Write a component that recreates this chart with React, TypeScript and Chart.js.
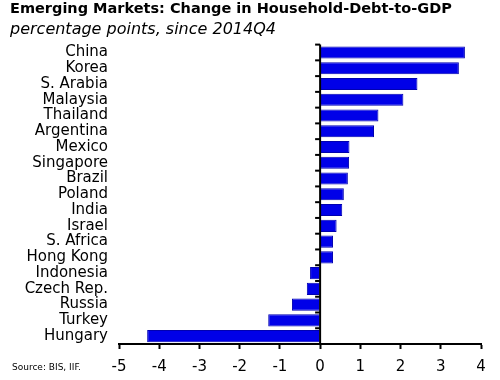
import React, { useEffect, useRef } from "react";
import { Chart, registerables } from "chart.js";

Chart.register(...registerables);

const titleText = "Emerging Markets: Change in Household-Debt-to-GDP";
const subtitleText = "percentage points, since 2014Q4";
const sourceText = "Source: BIS, IIF.";

const countries = [
  "China", "Korea", "S. Arabia", "Malaysia", "Thailand", "Argentina", "Mexico",
  "Singapore", "Brazil", "Poland", "India", "Israel", "S. Africa", "Hong Kong",
  "Indonesia", "Czech Rep.", "Russia", "Turkey", "Hungary",
];
const changes = [
  3.6, 3.45, 2.42, 2.07, 1.45, 1.34, 0.73, 0.72, 0.69, 0.59, 0.55, 0.41, 0.32,
  0.32, -0.25, -0.33, -0.7, -1.29, -4.3,
];
const xMin = -5;
const xMax = 4;

const FONT = "'DejaVu Sans', sans-serif";

const zeroLinePlugin = {
  id: "zeroLine",
  afterDatasetsDraw(chart: any) {
    const { ctx, chartArea, scales } = chart;
    const xs = scales.x;
    const x0 = xs.getPixelForValue(0);
    ctx.save();
    ctx.strokeStyle = "#000";
    ctx.lineWidth = 2;
    ctx.beginPath();
    ctx.moveTo(x0, chartArea.top);
    ctx.lineTo(x0, chartArea.bottom);
    ctx.stroke();
    const n = countries.length;
    const h = (chartArea.bottom - chartArea.top) / n;
    for (let i = 0; i < n; i++) {
      const y = chartArea.top + i * h;
      ctx.beginPath();
      ctx.moveTo(x0 - 5, y);
      ctx.lineTo(x0, y);
      ctx.stroke();
    }
    ctx.restore();
  },
};

export default function App() {
  const ref = useRef<HTMLCanvasElement | null>(null);
  useEffect(() => {
    if (!ref.current) return;
    const chart = new Chart(ref.current, {
      type: "bar",
      data: {
        labels: countries,
        datasets: [
          {
            data: changes,
            backgroundColor: "#0000E8",
            borderColor: "#0000B0",
            borderWidth: 1,
            barPercentage: 0.77,
            categoryPercentage: 1,
          },
        ],
      },
      options: {
        indexAxis: "y",
        animation: false,
        responsive: true,
        maintainAspectRatio: false,
        layout: { padding: { left: 10, right: 19, top: 0, bottom: 0 } },
        plugins: {
          legend: { display: false },
          tooltip: { enabled: false },
          title: {
            display: true,
            text: titleText,
            align: "start",
            color: "#000",
            font: { family: FONT, size: 14.5, weight: "bold" },
            padding: { top: 1, bottom: 2 },
          },
          subtitle: {
            display: true,
            text: subtitleText,
            align: "start",
            color: "#000",
            font: { family: FONT, size: 16, style: "italic" },
            padding: { top: 0, bottom: 5 },
          },
        },
        scales: {
          x: {
            type: "linear",
            min: xMin,
            max: xMax,
            ticks: {
              stepSize: 1,
              color: "#000",
              font: { family: FONT, size: 15 },
              padding: 9,
            },
            grid: {
              display: true,
              drawOnChartArea: false,
              drawTicks: true,
              tickLength: 5,
              tickWidth: 2,
              color: "#000",
            },
            border: { display: true, color: "#000", width: 2 },
            afterFit(scale: any) {
              scale.height = 36;
            },
          },
          y: {
            type: "category",
            ticks: {
              color: "#000",
              font: { family: FONT, size: 15 },
              padding: 11,
              autoSkip: false,
            },
            grid: { display: false, drawTicks: false },
            border: { display: false },
            afterFit(scale: any) {
              scale.width = 109;
            },
          },
        },
      },
      plugins: [zeroLinePlugin],
    });
    return () => chart.destroy();
  }, []);

  return (
    <div style={{ position: "absolute", left: 0, top: 0, width: 500, height: 380, background: "#fff" }}>
      <canvas ref={ref} />
      <div
        style={{
          position: "absolute",
          left: 12,
          top: 362,
          fontFamily: FONT,
          fontSize: 9,
          color: "#000",
          whiteSpace: "nowrap",
        }}
      >
        {sourceText}
      </div>
    </div>
  );
}
